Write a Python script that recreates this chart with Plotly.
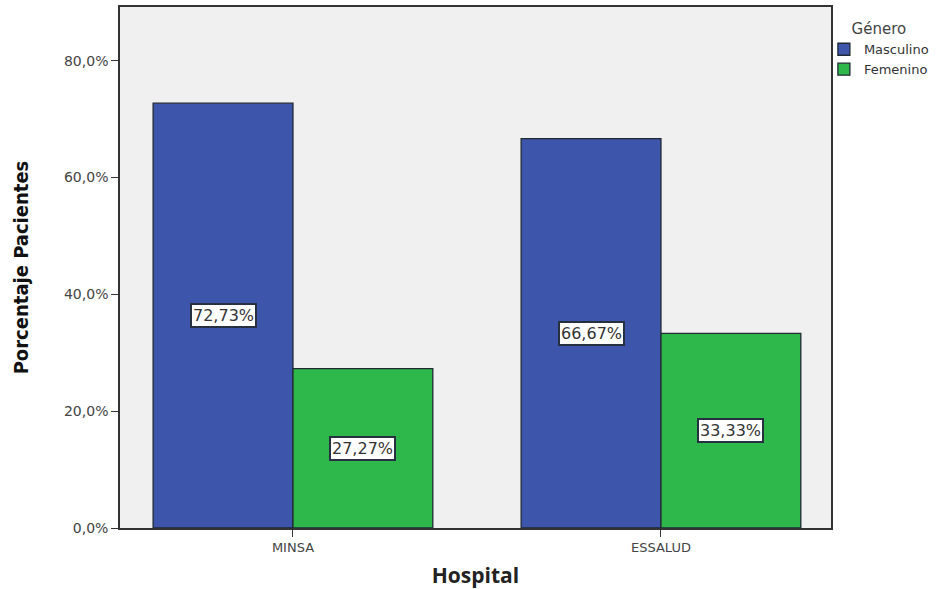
import plotly.graph_objects as go

hospitales = ["MINSA", "ESSALUD"]
masculino = [72.73, 66.67]
femenino = [27.27, 33.33]
series = [("Masculino", masculino, "#3d56ac"), ("Femenino", femenino, "#2eb84b")]
y_ticks = [0, 20, 40, 60, 80]
y_ticktext = [f"{t:.1f}%".replace(".", ",") for t in y_ticks]

BARGAP = 0.24
n_series = len(series)
bar_w = (1 - BARGAP) / n_series
WIDE = "DejaVu Sans, Verdana, Arial"

fig = go.Figure()
annotations = []
for k, (name, vals, color) in enumerate(series):
    fig.add_trace(go.Bar(
        name=name, x=list(range(len(hospitales))), y=vals,
        marker=dict(color=color, line=dict(color="#1f2a33", width=1.3)),
    ))
    offset = -(1 - BARGAP) / 2 + bar_w * (k + 0.5)
    for i, v in enumerate(vals):
        annotations.append(dict(
            x=i + offset, y=v / 2, xref="x", yref="y",
            text=f"{v:.2f}%".replace(".", ","), showarrow=False,
            font=dict(family=WIDE, size=16, color="#333333"),
            bgcolor="white", bordercolor="#263040", borderwidth=2, borderpad=1,
        ))

fig.update_layout(
    width=952, height=589,
    margin=dict(l=120, r=121, t=5, b=59),
    paper_bgcolor="white", plot_bgcolor="#f0f0f0",
    barmode="group", bargap=BARGAP, bargroupgap=0,
    font=dict(family=WIDE, color="#444444"),
    annotations=annotations,
    legend=dict(
        x=0.99, y=0.985, xanchor="left", yanchor="top",
        title=dict(text="Género", side="top center",
                   font=dict(family=WIDE, size=15, color="#444444")),
        font=dict(family=WIDE, size=13, color="#333333"),
        itemwidth=30, tracegroupgap=0, bgcolor="rgba(0,0,0,0)",
    ),
    xaxis=dict(
        tickmode="array", tickvals=list(range(len(hospitales))), ticktext=hospitales,
        range=[-0.47, 1.462],
        ticks="outside", ticklen=7, tickcolor="#333333", tickwidth=1.2,
        tickfont=dict(family=WIDE, size=13, color="#444444"),
        showline=True, linecolor="#333333", linewidth=1.5, mirror=True,
        showgrid=False, zeroline=False,
        title=dict(text="<b>Hospital</b>", standoff=14,
                   font=dict(family="Open Sans, Lato", size=21, color="#222222")),
    ),
    yaxis=dict(
        range=[0, 89.2], tickmode="array", tickvals=y_ticks, ticktext=y_ticktext,
        ticks="outside", ticklen=7, tickcolor="#333333", tickwidth=1.2,
        tickfont=dict(family=WIDE, size=14, color="#444444"),
        showline=True, linecolor="#333333", linewidth=1.5, mirror=True,
        showgrid=False, zeroline=False,
        title=dict(text="<b>Porcentaje Pacientes</b>", standoff=30,
                   font=dict(family="DejaVu Sans Condensed, Arial", size=20, color="#111111")),
    ),
)

fig.write_html("out.html")
